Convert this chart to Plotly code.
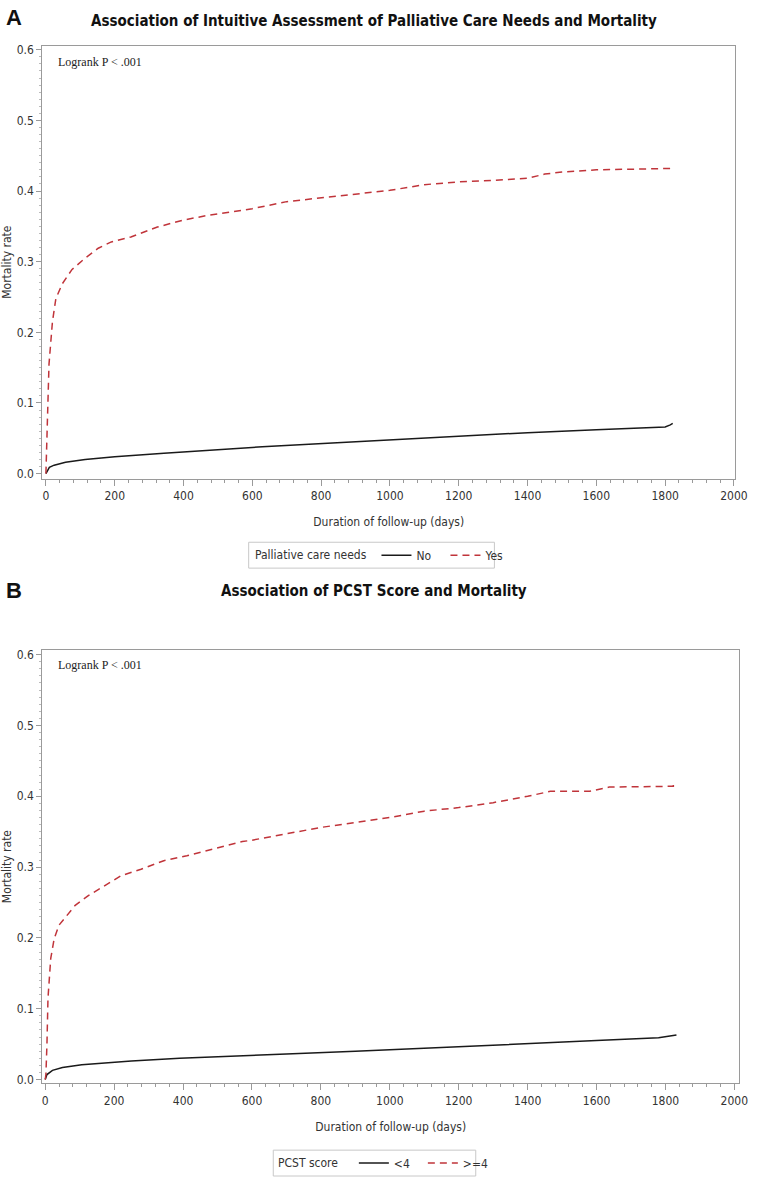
import plotly.graph_objects as go

# ---------------- Data ----------------
# Panel A: Intuitive assessment of palliative care needs
a_no_days = [0, 5, 10, 24, 57, 114, 200, 343, 486, 629, 819, 971, 1200, 1400, 1600, 1800, 1815, 1822]
a_no_rate = [0.0, 0.005, 0.009, 0.012, 0.016, 0.020, 0.024, 0.029, 0.034, 0.038, 0.043, 0.047, 0.053, 0.058, 0.062, 0.066, 0.069, 0.071]
a_yes_days = [0, 3, 9, 19, 29, 48, 76, 114, 152, 190, 247, 324, 400, 476, 533, 600, 700, 800, 900, 1000, 1100, 1200, 1300, 1400, 1450, 1500, 1600, 1700, 1822]
a_yes_rate = [0.0, 0.06, 0.155, 0.215, 0.248, 0.269, 0.289, 0.305, 0.319, 0.328, 0.335, 0.349, 0.359, 0.366, 0.370, 0.375, 0.385, 0.390, 0.395, 0.401, 0.409, 0.413, 0.415, 0.418, 0.424, 0.427, 0.430, 0.431, 0.432]

# Panel B: PCST score
b_lt4_days = [0, 5, 21, 50, 106, 180, 250, 390, 570, 700, 900, 1050, 1200, 1400, 1600, 1780, 1832]
b_lt4_rate = [0.0, 0.007, 0.013, 0.017, 0.021, 0.024, 0.026, 0.030, 0.033, 0.036, 0.040, 0.043, 0.047, 0.051, 0.055, 0.059, 0.063]
b_ge4_days = [0, 2, 5, 8, 16, 26, 40, 59, 87, 126, 173, 221, 278, 344, 411, 487, 572, 600, 800, 1000, 1100, 1200, 1300, 1400, 1466, 1580, 1637, 1800, 1823, 1823]
b_ge4_rate = [0.0, 0.007, 0.05, 0.115, 0.171, 0.199, 0.218, 0.230, 0.246, 0.260, 0.274, 0.288, 0.297, 0.309, 0.316, 0.325, 0.336, 0.338, 0.356, 0.370, 0.379, 0.384, 0.391, 0.400, 0.407, 0.407, 0.413, 0.414, 0.414, 0.421]

x_ticks = [0, 200, 400, 600, 800, 1000, 1200, 1400, 1600, 1800, 2000]
y_ticks = [0.0, 0.1, 0.2, 0.3, 0.4, 0.5, 0.6]

title_a = "Association of Intuitive Assessment of Palliative Care Needs and Mortality"
title_b = "Association of PCST Score and Mortality"
legend_title_a = "Palliative care needs"
legend_title_b = "PCST score"

# ---------------- Styling ----------------
W, H = 762, 1181
BLACK = "#1a1a1a"
RED = "#C0343A"
GRID = "#9a9a9a"
SANS = "DejaVu Sans Condensed, Liberation Sans Narrow, Arial, sans-serif"
TICKFONT = dict(family=SANS, size=12, color="#333333")
AXTITLEFONT = dict(family=SANS, size=12, color="#333333")
TITLEFONT = dict(family=SANS, size=15, color="#111111")
LEGFONT = dict(family=SANS, size=12, color="#333333")


def py(px):
    return 1 - px / H


def pxx(px):
    return px / W


fig = go.Figure()

fig.add_trace(go.Scatter(x=a_no_days, y=a_no_rate, mode="lines", name="No",
                         line=dict(color=BLACK, width=1.5), xaxis="x", yaxis="y", legend="legend"))
fig.add_trace(go.Scatter(x=a_yes_days, y=a_yes_rate, mode="lines", name="Yes",
                         line=dict(color=RED, width=1.5, dash="7px,5px"), xaxis="x", yaxis="y", legend="legend"))
fig.add_trace(go.Scatter(x=b_lt4_days, y=b_lt4_rate, mode="lines", name="<4",
                         line=dict(color=BLACK, width=1.5), xaxis="x2", yaxis="y2", legend="legend2"))
fig.add_trace(go.Scatter(x=b_ge4_days, y=b_ge4_rate, mode="lines", name=">=4",
                         line=dict(color=RED, width=1.5, dash="7px,5px"), xaxis="x2", yaxis="y2", legend="legend2"))

common_x = dict(
    tickmode="array", tickvals=x_ticks, ticks="outside", ticklen=6, tickcolor=GRID,
    showline=True, linecolor=GRID, linewidth=1, mirror=True, showgrid=False, zeroline=False,
    tickfont=TICKFONT,
    minor=dict(dtick=40, ticks="outside", ticklen=3, tickcolor=GRID, showgrid=False),
    title=dict(text="Duration of follow-up (days)", font=AXTITLEFONT, standoff=15),
)
common_y = dict(
    tickmode="array", tickvals=y_ticks, tickformat=".1f", ticks="outside", ticklen=5, tickcolor=GRID,
    showline=True, linecolor=GRID, linewidth=1, mirror=True, showgrid=False, zeroline=False,
    tickfont=TICKFONT,
    minor=dict(dtick=0.01, ticks="outside", ticklen=2, tickcolor="#bbbbbb", showgrid=False),
    title=dict(text="Mortality rate", font=AXTITLEFONT, standoff=5),
)

legend_common = dict(
    orientation="h", xanchor="left", yanchor="middle",
    borderwidth=0, bgcolor="rgba(0,0,0,0)",
    font=LEGFONT, itemwidth=30, tracegroupgap=0,
    entrywidth=24, entrywidthmode="pixels",
)

fig.update_layout(
    width=W, height=H,
    margin=dict(l=0, r=0, t=0, b=0),
    paper_bgcolor="white", plot_bgcolor="white",
    xaxis=dict(common_x, domain=[pxx(43), pxx(748)], range=[-10.6, 2003.7], anchor="y"),
    yaxis=dict(common_y, domain=[py(478), py(43)], range=[-0.007, 0.6056], anchor="x"),
    xaxis2=dict(common_x, domain=[pxx(43), pxx(752)], range=[-8.6, 2014], anchor="y2"),
    yaxis2=dict(common_y, domain=[py(1086), py(650)], range=[-0.0056, 0.607], anchor="x2"),
    legend=dict(legend_common, x=pxx(383), y=py(555)),
    legend2=dict(legend_common, x=pxx(360), y=py(1166)),
    showlegend=True,
)

shapes = [
    dict(type="rect", xref="paper", yref="paper", x0=pxx(253), x1=pxx(503), y0=py(568), y1=py(542),
         line=dict(color="#c8c8c8", width=1), fillcolor="rgba(0,0,0,0)", layer="below"),
    dict(type="rect", xref="paper", yref="paper", x0=pxx(278), x1=pxx(484), y0=py(1179), y1=py(1153),
         line=dict(color="#c8c8c8", width=1), fillcolor="rgba(0,0,0,0)", layer="below"),
]

annotations = [
    dict(text="<b>A</b>", x=pxx(4), y=py(15), xref="paper", yref="paper", xanchor="left", yanchor="middle",
         showarrow=False, font=dict(family="Liberation Sans, Arial, sans-serif", size=22, color="#111111")),
    dict(text="<b>B</b>", x=pxx(4), y=py(590), xref="paper", yref="paper", xanchor="left", yanchor="middle",
         showarrow=False, font=dict(family="Liberation Sans, Arial, sans-serif", size=22, color="#111111")),
    dict(text="<b>" + title_a + "</b>", x=pxx(380), y=py(18), xref="paper", yref="paper", xanchor="center",
         yanchor="middle", showarrow=False, font=TITLEFONT),
    dict(text="<b>" + title_b + "</b>", x=pxx(380), y=py(591), xref="paper", yref="paper", xanchor="center",
         yanchor="middle", showarrow=False, font=TITLEFONT),
    dict(text="Logrank P < .001", x=pxx(57), y=py(59), xref="paper", yref="paper", xanchor="left",
         yanchor="middle", showarrow=False,
         font=dict(family="Liberation Serif, DejaVu Serif, serif", size=12, color="#222222")),
    dict(text="Logrank P < .001", x=pxx(57), y=py(665), xref="paper", yref="paper", xanchor="left",
         yanchor="middle", showarrow=False,
         font=dict(family="Liberation Serif, DejaVu Serif, serif", size=12, color="#222222")),
    dict(text=legend_title_a, x=pxx(257), y=py(555), xref="paper", yref="paper", xanchor="left",
         yanchor="middle", showarrow=False, font=LEGFONT),
    dict(text=legend_title_b, x=pxx(281), y=py(1166), xref="paper", yref="paper", xanchor="left",
         yanchor="middle", showarrow=False, font=LEGFONT),
]
fig.update_layout(annotations=annotations, shapes=shapes)

fig.write_html(
    "out.html",
    config={"displayModeBar": False},
    post_script="document.body.style.margin='0';document.body.style.padding='0';document.body.style.overflow='hidden';",
)
